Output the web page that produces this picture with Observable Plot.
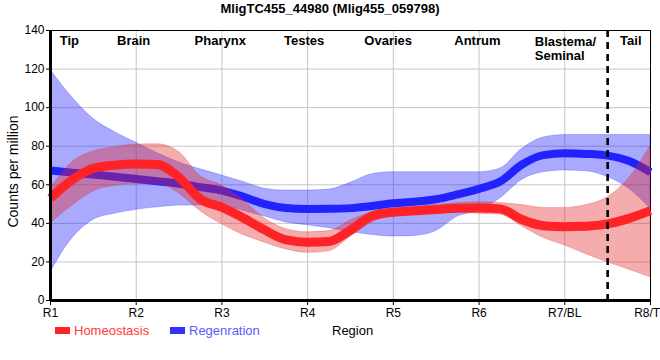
<!DOCTYPE html>
<html><head><meta charset="utf-8">
<script src="https://cdn.jsdelivr.net/npm/d3@7"></script>
<script src="https://cdn.jsdelivr.net/npm/@observablehq/plot@0.6"></script>
<style>
body{margin:0;background:#fff;font-family:"Liberation Sans",Arial,sans-serif;}
#wrap{position:relative;width:660px;height:360px;overflow:hidden;}
.abs{position:absolute;white-space:nowrap;line-height:16px;}
.sw{position:absolute;width:15px;height:7px;}
</style></head><body><div id="wrap"></div>
<script>
const pos = [1,1.25,1.5,1.75,2,2.25,2.5,2.75,3,3.25,3.5,3.75,4,4.25,4.5,4.75,5,5.25,5.5,5.75,6,6.25,6.5,6.75,7,7.25,7.5,7.75,8];
const homeoMean = [53,62.5,68.5,70.2,70.8,70.5,63.8,52.5,48.3,42.8,36.5,31.4,30.2,30.6,36.5,43.8,45.8,46.5,47.2,47.8,48,47.5,42,38.8,38.3,38.5,39.7,42.6,46.6];
const homeoLow  = [40,49,56.5,59.5,60.4,60.5,55.5,46.3,39.5,34,30,26.5,24.7,25.5,33,40.5,44,45,45.5,45.8,45,44.5,38.5,32.5,28.5,24,19.8,16,12];
const homeoHigh = [58,71.5,77.3,79.5,80.8,81,77,64.5,59.6,52,42.5,37,35.4,36,41.5,45.5,47.5,48.5,49.5,50.5,51,50.5,49.5,48,48,49.5,53.5,63.5,80.3];
const regenMean = [67.4,66.3,65.3,64.2,63,61.8,60.5,58.8,57,53.8,50,48,47.5,47.6,47.9,49,50.4,51.2,52.5,55,57.9,61.8,70.5,75.4,76.3,76,75.1,72.3,66.5];
const regenLow  = [14.7,32,41.8,45,47,48.3,49.2,49.3,49,46.5,43.5,40.5,39,37.5,35.5,34,33.2,33.5,36,43.5,46.6,53,62.5,66.5,67.4,67,64,58,47.6];
const regenHigh = [119.5,105.5,94.2,87.3,81.8,76.3,71.5,68,64.8,61.5,58,57,57,57.5,61,65.5,66.5,66.5,66.5,66.5,66.5,68.5,78.5,84.5,85.8,85.8,85.8,85.8,85.8];
const tickPos = [1,2,3,4,5,6,7,8];
const tickLabels = ["R1","R2","R3","R4","R5","R6","R7/BL","R8/TL"];
const yTicks = [0,20,40,60,80,100,120,140];
const regionNames = ["Tip","Brain","Pharynx","Testes","Ovaries","Antrum","Tail"];
const regionPos = [1.22,1.97,2.98,3.96,4.94,5.98,7.77];
const blastemaName = ["Blastema/\nSeminal"];
const blastemaPos = [6.65];
const boundaryPos = [7.5];
const titleText = "MligTC455_44980 (Mlig455_059798)";
const seriesNames = ["Homeostasis","Regenration"];

const homeo = pos.map((x,i)=>({x, m:homeoMean[i], lo:homeoLow[i], hi:homeoHigh[i]}));
const regen = pos.map((x,i)=>({x, m:regenMean[i], lo:regenLow[i], hi:regenHigh[i]}));

const RED = "rgb(255,34,38)", REDF = "rgb(228,36,36)";
const BLUE = "rgb(34,34,255)", BLUEF = "rgb(30,30,250)";
const fontFamily = "'Liberation Sans', Arial, sans-serif";

const chart = Plot.plot({
  width: 660, height: 360,
  marginTop: 30, marginBottom: 60, marginLeft: 50, marginRight: 10,
  x: {domain: [1, 8]},
  y: {domain: [0, 140]},
  style: {fontFamily, fontSize: "12px", color: "#000", background: "#fff", overflow: "visible"},
  marks: [
    Plot.gridY(yTicks, {stroke: "#c6c6c6", strokeOpacity: 1}),
    Plot.gridX(tickPos, {stroke: "#c6c6c6", strokeOpacity: 1}),
    Plot.ruleY([140], {stroke: "#000", strokeWidth: 1}),
    Plot.ruleX([8], {stroke: "#000", strokeWidth: 1}),
    Plot.areaY(regen, {x: "x", y1: "lo", y2: "hi", curve: "monotone-x", fill: BLUEF, fillOpacity: 0.38, stroke: BLUEF, strokeOpacity: 0.25, strokeWidth: 1}),
    Plot.line(regen, {x: "x", y: "m", curve: "monotone-x", stroke: BLUE, strokeWidth: 8, strokeLinecap: "butt"}),
    Plot.areaY(homeo, {x: "x", y1: "lo", y2: "hi", curve: "monotone-x", fill: REDF, fillOpacity: 0.38, stroke: REDF, strokeOpacity: 0.25, strokeWidth: 1}),
    Plot.line(homeo, {x: "x", y: "m", curve: "monotone-x", stroke: RED, strokeWidth: 9, strokeLinecap: "butt"}),
    Plot.ruleX(boundaryPos, {stroke: "#000", strokeWidth: 2.6, strokeDasharray: "7,5", insetBottom: -6}),
    Plot.ruleX([1], {stroke: "#000", strokeWidth: 3}),
    Plot.ruleY([0], {stroke: "#000", strokeWidth: 3}),
    Plot.axisY(yTicks, {tickSize: 4, tickPadding: 2, label: null, fontSize: 12}),
    Plot.axisX(tickPos, {tickFormat: d => tickLabels[tickPos.indexOf(d)], tickSize: 5, tickPadding: 3, label: null, fontSize: 12}),
    Plot.text(regionNames, {x: regionPos, text: d => d, frameAnchor: "top", lineAnchor: "top", dy: 5, fontSize: 13, fontWeight: "bold", fill: "#000"}),
    Plot.text(blastemaName, {x: blastemaPos, text: d => d, frameAnchor: "top", lineAnchor: "top", dy: 5, textAnchor: "start", lineHeight: 1.1, fontSize: 13, fontWeight: "bold", fill: "#000"}),
    Plot.text(["Counts per million"], {frameAnchor: "left", textAnchor: "middle", rotate: -90, dx: -37, dy: 6, fontSize: 14, fill: "#000"})
  ]
});
const wrap = document.getElementById("wrap");
wrap.appendChild(chart);

function addDiv(cls, css, text) {
  const d = document.createElement("div");
  d.className = cls;
  Object.assign(d.style, css);
  if (text) d.textContent = text;
  wrap.appendChild(d);
}
addDiv("abs", {left: "0px", top: "1px", width: "660px", textAlign: "center", fontWeight: "bold", fontSize: "13px"}, titleText);
addDiv("sw", {left: "55px", top: "327px", background: RED});
addDiv("abs", {left: "74px", top: "323px", fontSize: "13px", color: "#ff3838"}, seriesNames[0]);
addDiv("sw", {left: "170px", top: "327px", background: "#3333ff"});
addDiv("abs", {left: "189px", top: "323px", fontSize: "13px", color: "#5a5aff"}, seriesNames[1]);
addDiv("abs", {left: "332px", top: "323px", fontSize: "13px", color: "#000"}, "Region");
</script></body></html>
